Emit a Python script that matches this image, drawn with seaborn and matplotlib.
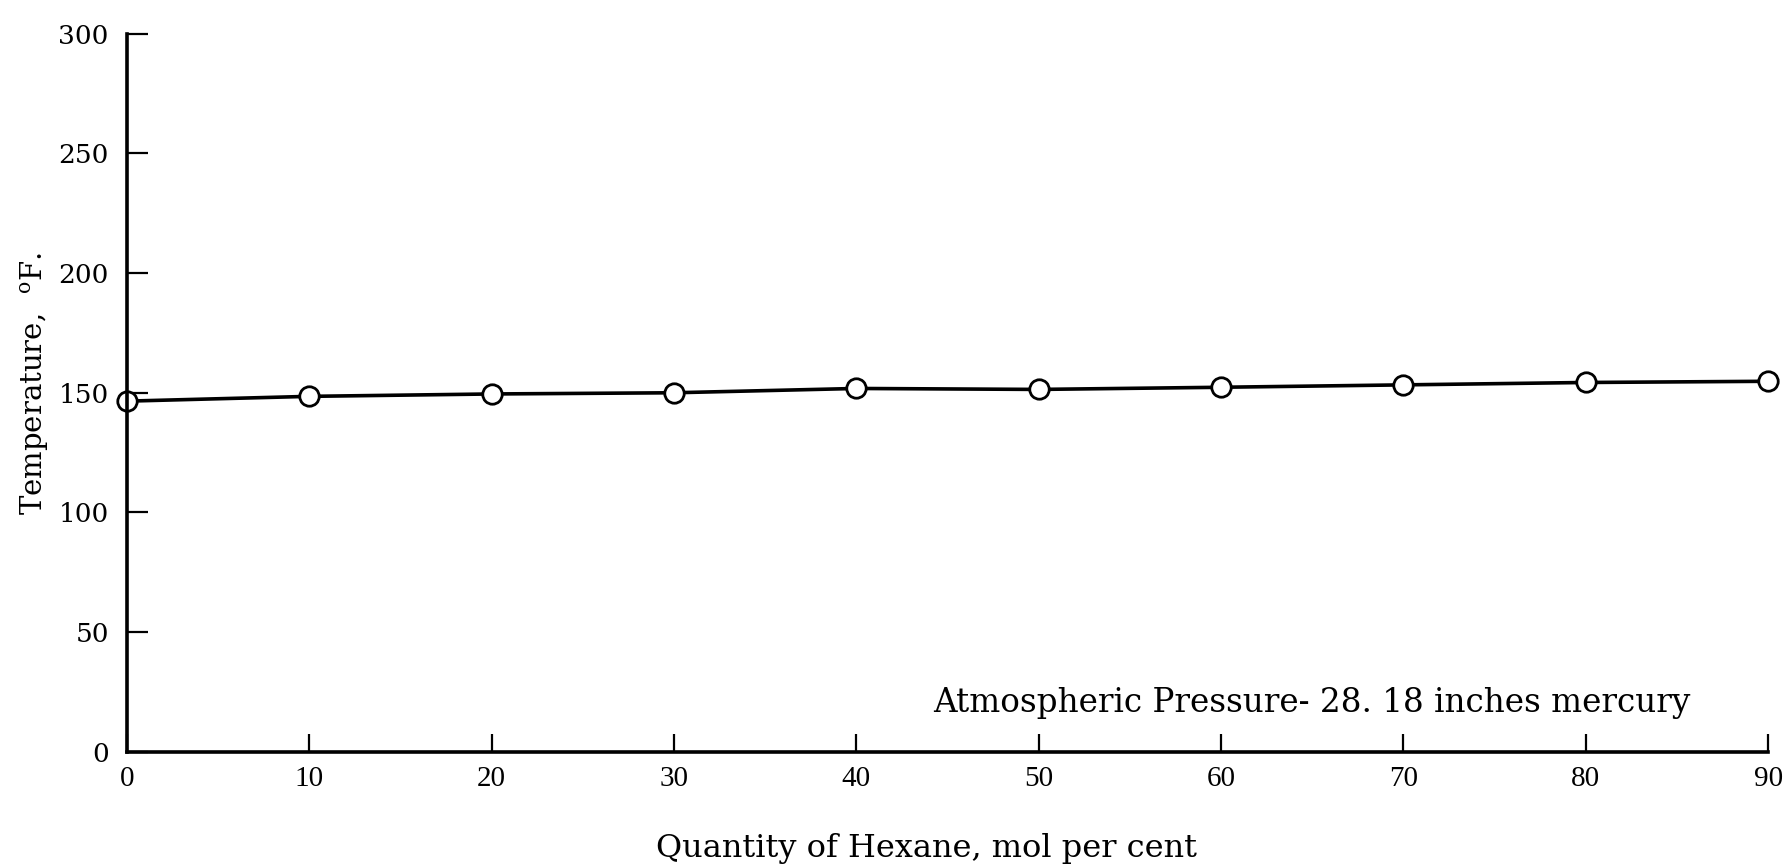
import matplotlib
matplotlib.use("Agg")
import matplotlib.pyplot as plt
import seaborn as sns
import pandas as pd

# Data
hexane_mol_pct = [0, 10, 20, 30, 40, 50, 60, 70, 80, 90]
temperature_f = [146.5, 148.5, 149.5, 150.0, 151.8, 151.4, 152.3, 153.3, 154.3, 154.8]
x_ticks = [0, 10, 20, 30, 40, 50, 60, 70, 80, 90]
y_ticks = [0, 50, 100, 150, 200, 250, 300]
note_text = "Atmospheric Pressure- 28. 18 inches mercury"

sns.set_style("ticks")
plt.rcParams["font.family"] = ["DejaVu Serif", "DejaVu Sans"]
plt.rcParams["mathtext.fontset"] = "dejavuserif"

df = pd.DataFrame({"x": hexane_mol_pct, "y": temperature_f})

fig = plt.figure(figsize=(17.86, 8.68), dpi=100)
ax = fig.add_axes([0.071, 0.134, 0.919, 0.827])

sns.lineplot(data=df, x="x", y="y", ax=ax, color="black", linewidth=2.6,
             marker="o", markersize=14, markerfacecolor="white",
             markeredgecolor="black", markeredgewidth=2.0, clip_on=False)

ax.set_xlim(0, 90)
ax.set_ylim(0, 300)
ax.set_xticks(x_ticks)
ax.set_yticks(y_ticks)
ax.set_xticklabels([str(v) for v in x_ticks], fontfamily="Liberation Serif", fontsize=21)
ax.set_yticklabels([str(v) for v in y_ticks], fontfamily="DejaVu Serif", fontsize=19)

for side in ["top", "right"]:
    ax.spines[side].set_visible(False)
for side in ["left", "bottom"]:
    ax.spines[side].set_linewidth(2.6)
    ax.spines[side].set_color("black")

ax.tick_params(axis="y", direction="in", length=15, width=1.6, pad=13, colors="black")
ax.tick_params(axis="x", direction="in", length=13, width=1.6, pad=10, colors="black")

ax.set_xlabel("Quantity of Hexane, mol per cent", fontfamily="DejaVu Serif",
              fontsize=23, va="center", color="black")
ax.xaxis.set_label_coords(0.487, -0.135)
ax.set_ylabel(r"Temperature,  $^{\mathrm{o}}$F.", fontsize=21, va="center", color="black")
ax.yaxis.set_label_coords(-0.056, 0.513)

ax.text(44.2, 20.5, note_text, fontfamily="DejaVu Serif", fontsize=23.5,
        ha="left", va="center", color="black")

ax.set_facecolor("white")
fig.patch.set_facecolor("white")
fig.savefig("out.png", dpi=100)
